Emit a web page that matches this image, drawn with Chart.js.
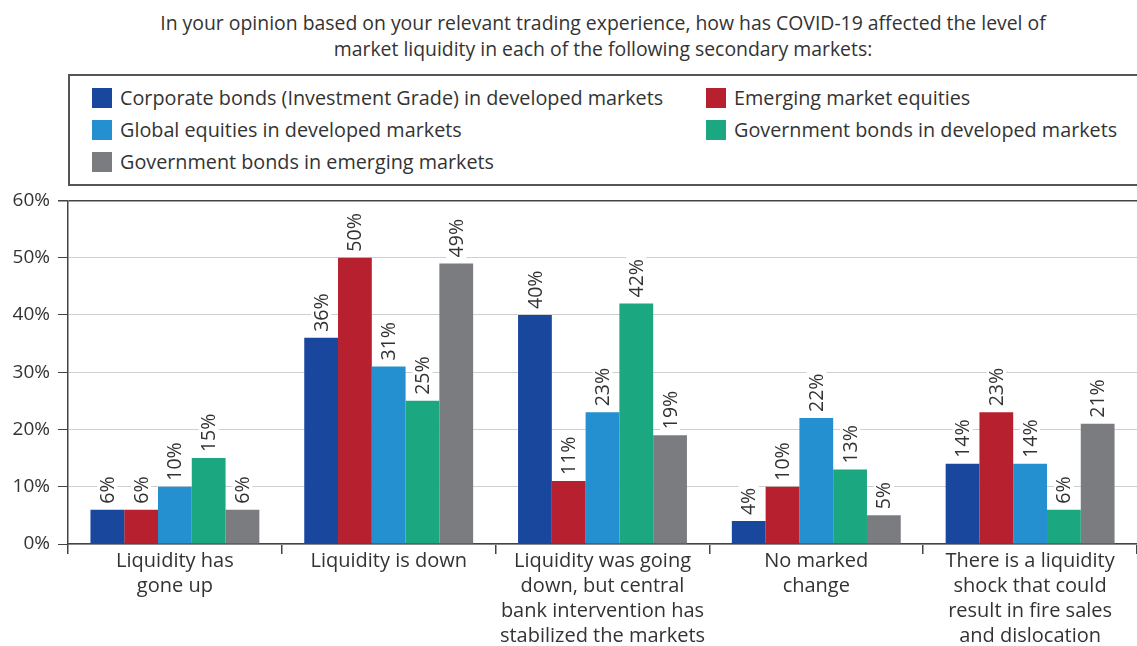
<!DOCTYPE html>
<html>
<head>
<meta charset="utf-8">
<script src="https://cdn.jsdelivr.net/npm/chart.js@4"></script>
<style>
  body { margin: 0; width: 1137px; height: 646px; background: #fff; font-family: "Open Sans", sans-serif; color: #333; position: relative; overflow: hidden; }
  #title { position: absolute; top: 10px; left: 0; width: 1206px; text-align: center; font-size: 19.4px; line-height: 26px; }
  #legend { position: absolute; top: 74px; left: 68px; width: 1100px; height: 112px; border: 2px solid #555; box-sizing: border-box; }
  .item { position: absolute; font-size: 19.8px; line-height: 22px; white-space: nowrap; }
  .item i { position: absolute; left: -28px; top: 1px; width: 20px; height: 20px; }
  #wrap { position: absolute; top: 181px; left: 0; width: 1137px; height: 465px; }
</style>
</head>
<body>
<div id="title">In your opinion based on your relevant trading experience, how has COVID-19 affected the level of<br>market liquidity in each of the following secondary markets:</div>
<div id="legend"></div>
<div id="wrap"><canvas id="myChart"></canvas></div>
<script>
const categories = [
  ["Liquidity has", "gone up"],
  ["Liquidity is down"],
  ["Liquidity was going", "down, but central", "bank intervention has", "stabilized the markets"],
  ["No marked", "change"],
  ["There is a liquidity", "shock that could", "result in fire sales", "and dislocation"],
];
const seriesNames = [
  "Corporate bonds (Investment Grade) in developed markets",
  "Emerging market equities",
  "Global equities in developed markets",
  "Government bonds in developed markets",
  "Government bonds in emerging markets",
];
const corporateBonds = [6, 36, 40, 4, 14];
const emergingEquities = [6, 50, 11, 10, 23];
const globalEquities = [10, 31, 23, 22, 14];
const govBondsDeveloped = [15, 25, 42, 13, 6];
const govBondsEmerging = [6, 49, 19, 5, 21];
const yTicks = [0, 10, 20, 30, 40, 50, 60];
const colors = ["#1a479e", "#b7202f", "#2490d0", "#1ba77f", "#7b7c80"];

const legend = document.getElementById("legend");
const legendPos = [[50, 11], [664, 11], [50, 43], [664, 43], [50, 75]];
seriesNames.forEach((name, i) => {
  const div = document.createElement("div");
  div.className = "item";
  div.style.left = legendPos[i][0] + "px";
  div.style.top = legendPos[i][1] + "px";
  div.innerHTML = `<i style="background:${colors[i]}"></i>${name}`;
  legend.appendChild(div);
});

const valueLabels = {
  id: "valueLabels",
  afterDatasetsDraw(chart) {
    const ctx = chart.ctx;
    ctx.save();
    ctx.font = "19.5px 'Open Sans'";
    ctx.textBaseline = "middle";
    ctx.textAlign = "left";
    chart.data.datasets.forEach((ds, di) => {
      chart.getDatasetMeta(di).data.forEach((bar, i) => {
        const text = ds.data[i] + "%";
        const w = ctx.measureText(text).width;
        ctx.save();
        ctx.translate(bar.x, bar.y - 6);
        ctx.rotate(-Math.PI / 2);
        ctx.fillStyle = "#fff";
        ctx.fillRect(-2, -10, w + 4, 20);
        ctx.fillStyle = "#333";
        ctx.fillText(text, 0, 1);
        ctx.restore();
      });
    });
    ctx.restore();
  },
};

const data = [corporateBonds, emergingEquities, globalEquities, govBondsDeveloped, govBondsEmerging];
new Chart(document.getElementById("myChart"), {
  type: "bar",
  data: {
    labels: categories,
    datasets: data.map((d, i) => ({
      label: seriesNames[i],
      data: d,
      backgroundColor: colors[i],
      barPercentage: 1,
      categoryPercentage: 0.79,
    })),
  },
  options: {
    responsive: true,
    maintainAspectRatio: false,
    animation: false,
    layout: { padding: 0 },
    plugins: { legend: { display: false }, tooltip: { enabled: false } },
    scales: {
      x: {
        afterFit: (s) => { s.height = 102; },
        grid: { offset: true, drawOnChartArea: false, tickLength: 10, tickColor: "#444", lineWidth: 1.5 },
        border: { color: "#444", width: 1.5 },
        ticks: { color: "#333", font: { family: "Open Sans", size: 20, lineHeight: 1.25 }, padding: -5, maxRotation: 0, autoSkip: false },
      },
      y: {
        min: 0,
        max: 60,
        afterFit: (s) => { s.width = 68; },
        afterBuildTicks: (s) => { s.ticks = yTicks.map((v) => ({ value: v })); },
        grid: {
          tickLength: 10,
          tickColor: "#444",
          color: (c) => (c.tick && c.tick.value === 60 ? "#444" : "#cfcfcf"),
          lineWidth: (c) => (c.tick && c.tick.value === 60 ? 1.5 : 1),
        },
        border: { color: "#444", width: 1.5 },
        ticks: { color: "#333", font: { family: "Open Sans", size: 19 }, padding: 8, callback: (v) => v + "%" },
      },
    },
  },
  plugins: [valueLabels],
});
</script>
</body>
</html>
